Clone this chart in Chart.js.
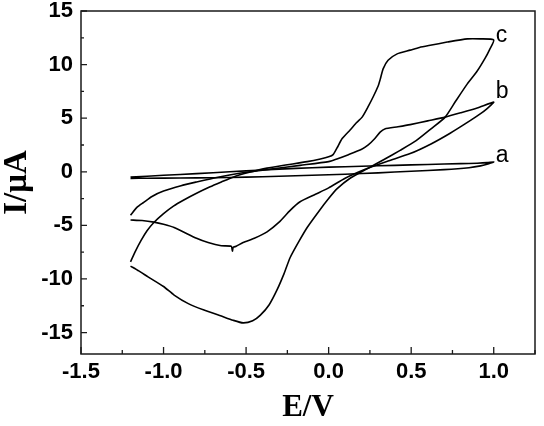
<!DOCTYPE html>
<html>
<head>
<meta charset="utf-8">
<script src="https://cdn.jsdelivr.net/npm/chart.js@4"></script>
<style>
  body { margin: 0; background: #fff; }
  canvas { display: block; }
</style>
</head>
<body>
<canvas id="cv" width="544" height="426"></canvas>
<script>
const curveNames = ['a', 'b', 'c']

const eTicks = [-1.5, -1.0, -0.5, 0.0, 0.5, 1.0]
const iTicks = [-15, -10, -5, 0, 5, 10, 15]

// curve a
const aE = [-1.2, -1.0, -0.8, -0.6, -0.4, -0.2, 0.0, 0.2, 0.4, 0.6, 0.8, 0.9, 0.96, 1.0,
    0.97, 0.92, 0.85, 0.7, 0.5, 0.3, 0.1, -0.1, -0.3, -0.5, -0.7, -0.9, -1.1, -1.2]
const aI = [-0.5, -0.33, -0.17, 0.0, 0.17, 0.32, 0.43, 0.52, 0.6, 0.68, 0.76, 0.8, 0.85, 0.92,
    0.75, 0.55, 0.38, 0.2, 0.05, -0.1, -0.23, -0.32, -0.42, -0.5, -0.55, -0.58, -0.6, -0.62]

// curve b
const bE = [-1.2, -1.16, -1.12, -1.07, -1.0, -0.894, -0.8, -0.7, -0.6, -0.476, -0.35, -0.173, 0.0, 0.05,
    0.12, 0.2, 0.24, 0.28, 0.312, 0.34, 0.42, 0.494, 0.6, 0.706, 0.8, 0.9, 1.0,
    0.96, 0.918, 0.85, 0.736, 0.62, 0.494, 0.36, 0.233, 0.1, 0.0, -0.08, -0.173, -0.233, -0.3,
    -0.373, -0.45, -0.518, -0.56, -0.578, -0.583, -0.59, -0.65, -0.73, -0.8, -0.936, -1.0, -1.058, -1.13, -1.2]
const bI = [-4.05, -3.3, -2.85, -2.3, -1.8, -1.3, -0.95, -0.6, -0.3, 0.0, 0.25, 0.6, 0.95, 1.2,
    1.6, 2.1, 2.5, 3.1, 3.7, 4.0, 4.2, 4.4, 4.75, 5.1, 5.5, 5.95, 6.5,
    5.9, 5.4, 4.7, 3.6, 2.6, 1.7, 1.0, 0.3, -0.6, -1.5, -2.1, -2.8, -3.6, -4.7,
    -5.6, -6.2, -6.6, -6.95, -7.05, -7.4, -6.95, -6.9, -6.6, -6.2, -5.2, -4.9, -4.7, -4.55, -4.5]

// curve c
const cE = [-1.2, -1.17, -1.136, -1.1, -1.06, -1.0, -0.94, -0.88, -0.8, -0.718, -0.65, -0.58, -0.48, -0.373,
    -0.25, -0.13, -0.05, 0.0, 0.027, 0.05, 0.082, 0.13, 0.17, 0.203, 0.24, 0.27, 0.3, 0.312, 0.33, 0.36,
    0.415, 0.494, 0.55, 0.615, 0.718, 0.84, 0.92, 1.0,
    0.975, 0.948, 0.9, 0.84, 0.77, 0.706, 0.62, 0.53, 0.433, 0.33, 0.23, 0.13, 0.05, 0.0, -0.06, -0.13,
    -0.18, -0.233, -0.27, -0.312, -0.36, -0.415, -0.46, -0.518, -0.579, -0.66, -0.755, -0.85, -0.936,
    -1.0, -1.094, -1.15, -1.2]
const cI = [-8.4, -7.4, -6.4, -5.5, -4.75, -3.9, -3.2, -2.65, -2.0, -1.4, -0.95, -0.5, -0.05, 0.34,
    0.65, 0.95, 1.2, 1.4, 1.6, 2.2, 3.1, 3.9, 4.6, 5.1, 6.1, 7.0, 8.0, 8.6, 9.6, 10.4,
    11.0, 11.35, 11.6, 11.8, 12.1, 12.4, 12.4, 12.3,
    11.4, 10.6, 9.4, 8.2, 6.6, 5.1, 4.0, 2.9, 2.0, 1.1, 0.25, -0.6, -1.6, -2.5, -3.7, -5.2,
    -6.5, -8.0, -9.5, -11.0, -12.4, -13.4, -13.9, -14.1, -13.85, -13.4, -12.9, -12.3, -11.5,
    -10.7, -9.8, -9.25, -8.8]

const toPoints = (xs, ys) => xs.map((x, i) => ({ x: x, y: ys[i] }))

const seriesE = [aE, bE, cE]
const seriesI = [aI, bI, cI]
// pixel shift of each curve letter from the curve tip
const letterDy = [0, -4, 2]

const frameAndTicks = {
    id: 'frameAndTicks',
    afterDraw(chart) {
        const { ctx, chartArea: area, scales: { x, y } } = chart
        ctx.save()
        ctx.strokeStyle = '#1a1a1a'
        ctx.lineWidth = 1.5
        ctx.strokeRect(area.left, area.top, area.right - area.left, area.bottom - area.top)

        ctx.lineWidth = 1.3
        ctx.beginPath()
        for (let v = -1.5; v <= 1.2501; v += 0.25) {
            const px = x.getPixelForValue(v)
            const major = Math.abs(v * 2 - Math.round(v * 2)) < 1e-6
            const len = major ? 7 : 4
            ctx.moveTo(px, area.bottom)
            ctx.lineTo(px, area.bottom - len)
        }
        for (let v = -15; v <= 15; v += 2.5) {
            const py = y.getPixelForValue(v)
            const major = v % 5 === 0
            const len = major ? 6 : 3
            ctx.moveTo(area.left, py)
            ctx.lineTo(area.left + len, py)
        }
        ctx.stroke()

        // curve letters next to the turning point of each curve
        ctx.fillStyle = '#000'
        ctx.font = '23px "Liberation Sans", Arial, sans-serif'
        ctx.textBaseline = 'alphabetic'
        ctx.textAlign = 'left'
        curveNames.forEach((name, i) => {
            const xs = seriesE[i]
            const k = xs.indexOf(Math.max(...xs))
            const px = x.getPixelForValue(xs[k])
            const py = y.getPixelForValue(seriesI[i][k])
            ctx.fillText(name, px + 2, py + letterDy[i])
        })
        ctx.restore()
    }
}

new Chart(document.getElementById('cv'), {
    type: 'scatter',
    data: {
        datasets: curveNames.map((name, i) => ({
            label: name,
            data: toPoints(seriesE[i], seriesI[i]),
            showLine: true,
            borderColor: '#000',
            borderWidth: 1.6,
            pointRadius: 0,
            tension: 0.2
        }))
    },
    options: {
        responsive: false,
        animation: false,
        layout: { padding: { top: 11, right: 9, left: 0, bottom: 0 } },
        plugins: { legend: { display: false }, tooltip: { enabled: false } },
        scales: {
            x: {
                type: 'linear',
                min: -1.5,
                max: 1.25,
                grid: { display: false, drawTicks: false },
                border: { display: false },
                afterBuildTicks: s => { s.ticks = eTicks.map(v => ({ value: v })) },
                afterFit: s => { s.height = 72; s.paddingLeft = 0; s.paddingRight = 0 },
                ticks: {
                    color: '#000',
                    padding: 5,
                    maxRotation: 0,
                    font: { family: '"Liberation Sans", Arial, sans-serif', size: 22, weight: 'bold' },
                    callback: v => v.toFixed(1)
                },
                title: {
                    display: true,
                    text: 'E/V',
                    color: '#000',
                    padding: { top: 0, bottom: 3 },
                    font: { family: '"Liberation Serif", "Times New Roman", serif', size: 31, weight: 'bold', lineHeight: 1.0 }
                }
            },
            y: {
                type: 'linear',
                min: -17,
                max: 15,
                grid: { display: false, drawTicks: false },
                border: { display: false },
                afterBuildTicks: s => { s.ticks = iTicks.map(v => ({ value: v })) },
                afterFit: s => { s.width = 81; s.paddingTop = 0; s.paddingBottom = 0 },
                ticks: {
                    color: '#000',
                    padding: 8,
                    font: { family: '"Liberation Sans", Arial, sans-serif', size: 22, weight: 'bold' },
                    callback: v => String(v)
                },
                title: {
                    display: true,
                    text: 'I/μA',
                    color: '#000',
                    padding: { top: 1, bottom: 0 },
                    font: { family: '"Liberation Serif", "Times New Roman", serif', size: 33, weight: 'bold', lineHeight: 1.0 }
                }
            }
        }
    },
    plugins: [frameAndTicks]
})
</script>
</body>
</html>
